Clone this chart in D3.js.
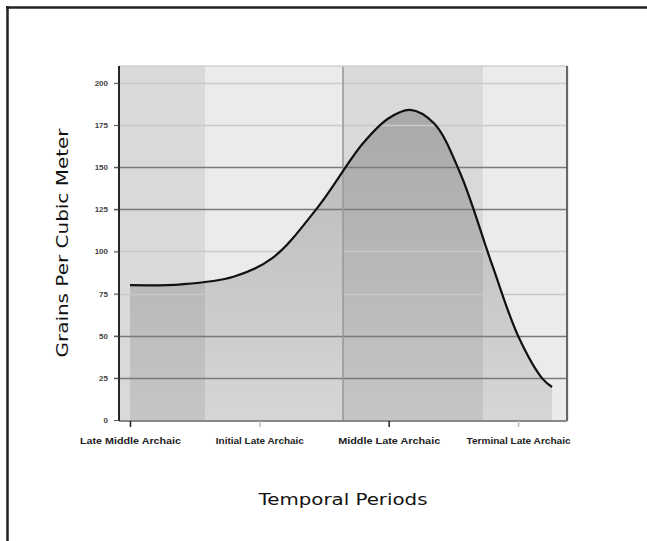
<!DOCTYPE html>
<html>
<head>
<meta charset="utf-8">
<script src="https://cdn.jsdelivr.net/npm/d3@7"></script>
<style>
  html, body { margin: 0; padding: 0; background: #fff; overflow: hidden; }
  svg { display: block; overflow: hidden; }
</style>
</head>
<body>
<svg id="chart" width="647" height="541"></svg>
<script>
// Period names placed at integer positions along the time axis
const periods = ["Late Middle Archaic", "Initial Late Archaic", "Middle Late Archaic", "Terminal Late Archaic"];
const periodPos = [0, 1, 2, 3];
// Boundaries of the shaded period bands (same time units)
const bandEdges = [-0.085, 0.58, 1.647, 2.73, 3.394];
// Density curve: time position and grains per cubic meter
const densityT = [0, 0.4, 0.8, 1.1, 1.45, 1.8, 2.0, 2.165, 2.35, 2.55, 2.8, 3.0, 3.19, 3.263];
const densityV = [80, 80.5, 85, 96, 126, 164, 179, 184, 176, 147, 92, 50, 24.4, 19.6];
const yTicks = [0, 25, 50, 75, 100, 125, 150, 175, 200];

const svg = d3.select("#chart");
const L = 119, R = 567, T = 66, B = 421;

const x = d3.scaleLinear().domain([bandEdges[0], bandEdges[bandEdges.length - 1]]).range([L, R + 2]);
const y = d3.scaleLinear().domain([0, 210]).range([B - 1, T]);

// page frame: top and left edges
svg.append("line").attr("x1", 6).attr("x2", 647).attr("y1", 7.5).attr("y2", 7.5)
  .attr("stroke", "#222").attr("stroke-width", 2.5);
svg.append("line").attr("x1", 7.5).attr("x2", 7.5).attr("y1", 6).attr("y2", 541)
  .attr("stroke", "#222").attr("stroke-width", 2.5);

// period bands
const bands = d3.range(bandEdges.length - 1).map(i => ({ x0: bandEdges[i], x1: bandEdges[i + 1], i }));
svg.append("g").selectAll("rect").data(bands).join("rect")
  .attr("x", d => x(d.x0)).attr("width", d => x(d.x1) - x(d.x0))
  .attr("y", T).attr("height", B - T)
  .attr("fill", d => d.i % 2 === 0 ? "#d9d9d9" : "#ebebeb");

// area fill, darker toward the top
const defs = svg.append("defs");
const grad = defs.append("linearGradient").attr("id", "areaGrad")
  .attr("gradientUnits", "userSpaceOnUse").attr("x1", 0).attr("x2", 0)
  .attr("y1", y(184)).attr("y2", B);
grad.append("stop").attr("offset", 0).attr("stop-color", "#000").attr("stop-opacity", 0.22);
grad.append("stop").attr("offset", 1).attr("stop-color", "#000").attr("stop-opacity", 0.09);

const pts = densityT.map((t, i) => [t, densityV[i]]);
const curve = d3.curveCatmullRom.alpha(0.5);
svg.append("path").datum(pts)
  .attr("d", d3.area().x(d => x(d[0])).y0(y(0)).y1(d => y(d[1])).curve(curve))
  .attr("fill", "url(#areaGrad)");

// horizontal gridlines
const darkGrid = new Set([25, 50, 125, 150]);
svg.append("g").selectAll("line").data(yTicks.filter(v => v > 0)).join("line")
  .attr("x1", L - 5).attr("x2", R)
  .attr("y1", d => Math.round(y(d)) + 0.5).attr("y2", d => Math.round(y(d)) + 0.5)
  .attr("stroke", d => darkGrid.has(d) ? "#7a7a7a" : "#c9c9c9")
  .attr("stroke-width", 1.6);

// vertical divider
svg.append("line").attr("x1", x(bandEdges[2])).attr("x2", x(bandEdges[2]))
  .attr("y1", T).attr("y2", B).attr("stroke", "#9a9a9a").attr("stroke-width", 1.6);

// density line
svg.append("path").datum(pts)
  .attr("d", d3.line().x(d => x(d[0])).y(d => y(d[1])).curve(curve))
  .attr("fill", "none").attr("stroke", "#111").attr("stroke-width", 2.2);

// plot frame
svg.append("line").attr("x1", L).attr("x2", R).attr("y1", T).attr("y2", T).attr("stroke", "#d0d0d0").attr("stroke-width", 1.5);
svg.append("line").attr("x1", R).attr("x2", R).attr("y1", T).attr("y2", B).attr("stroke", "#666").attr("stroke-width", 2);
svg.append("line").attr("x1", L).attr("x2", R).attr("y1", B).attr("y2", B).attr("stroke", "#888").attr("stroke-width", 1.8);
svg.append("line").attr("x1", L).attr("x2", L).attr("y1", T).attr("y2", B).attr("stroke", "#111").attr("stroke-width", 1.8);

// y axis ticks and labels
const yAxis = svg.append("g").attr("transform", `translate(${L},0)`)
  .call(d3.axisLeft(y).tickValues(yTicks).tickSize(5).tickPadding(6));
yAxis.select(".domain").remove();
yAxis.selectAll(".tick line").attr("stroke", "#555").attr("stroke-width", 1);
yAxis.selectAll(".tick text").attr("font-family", "Liberation Sans, Arial, sans-serif")
  .attr("font-size", 8).attr("font-weight", "bold").attr("fill", "#444");

// x axis ticks and labels
const xAxis = svg.append("g").attr("transform", `translate(0,${B})`)
  .call(d3.axisBottom(x).tickValues(periodPos).tickSize(6).tickPadding(11)
    .tickFormat((d, i) => periods[i]));
xAxis.select(".domain").remove();
xAxis.selectAll(".tick line").attr("stroke", (d, i) => i % 2 === 0 ? "#222" : "#bbb").attr("stroke-width", 1.5);
const labelWidths = [101, 88, 102, 104];
xAxis.selectAll(".tick text").attr("font-family", "Liberation Sans, Arial, sans-serif")
  .attr("font-size", 8.5).attr("font-weight", "bold").attr("fill", "#222")
  .attr("textLength", (d, i) => labelWidths[i]).attr("lengthAdjust", "spacingAndGlyphs");

// axis titles
svg.append("text").attr("x", 343).attr("y", 505).attr("text-anchor", "middle")
  .attr("font-family", "DejaVu Sans, sans-serif").attr("font-size", 16).attr("fill", "#111")
  .attr("textLength", 169).attr("lengthAdjust", "spacingAndGlyphs")
  .text("Temporal Periods");
svg.append("text").attr("transform", "translate(68,243) rotate(-90)").attr("text-anchor", "middle")
  .attr("font-family", "DejaVu Sans, sans-serif").attr("font-size", 16).attr("fill", "#111")
  .attr("textLength", 229).attr("lengthAdjust", "spacingAndGlyphs")
  .text("Grains Per Cubic Meter");
</script>
</body>
</html>
